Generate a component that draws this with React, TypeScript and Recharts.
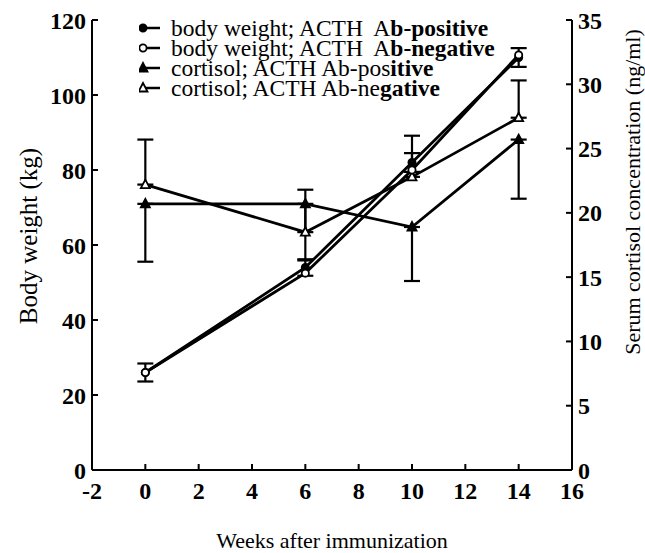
import { ErrorBar, Label, Legend, Line, LineChart, XAxis, YAxis } from "recharts";

const weeks = [0, 6, 10, 14];
const bodyWeightPos = [26, 54, 82, 110];
const bodyWeightPosErr = [2.4, 2.2, 2.5, 2.5];
const bodyWeightNeg = [26, 52.5, 80, 110.7];
const cortisolPos = [20.7, 20.7, 18.9, 25.7];
const cortisolPosErr = [4.5, 4.4, 4.2, 4.6];
const cortisolNeg = [22.2, 18.5, 22.8, 27.4];
const cortisolNegErr = [3.5, 3.3, 3.2, 2.9];

const xTicks = [-2, 0, 2, 4, 6, 8, 10, 12, 14, 16];
const leftTicks = [0, 20, 40, 60, 80, 100, 120];
const rightTicks = [0, 5, 10, 15, 20, 25, 30, 35];

const legendRows = [
	{ marker: "filledCircle", plain: "body weight; ACTH  A", bold: "b-positive" },
	{ marker: "openCircle", plain: "body weight; ACTH  A", bold: "b-negative" },
	{ marker: "filledTriangle", plain: "cortisol; ACTH Ab-pos", bold: "itive" },
	{ marker: "openTriangle", plain: "cortisol; ACTH Ab-ne", bold: "gative" },
];

const data = weeks.map((w, i) => ({
	week: w,
	bwPos: bodyWeightPos[i],
	bwPosErr: bodyWeightPosErr[i],
	bwNeg: bodyWeightNeg[i],
	cPos: cortisolPos[i],
	cPosErr: [cortisolPosErr[i], 0],
	cNeg: cortisolNeg[i],
	cNegErr: [0, cortisolNegErr[i]],
}));

const FONT = "'Liberation Serif', 'Times New Roman', serif";

function markerShape(kind: string, cx: number, cy: number, key?: string) {
	if (kind === "filledCircle" || kind === "openCircle") {
		return (
			<circle key={key} cx={cx} cy={cy} r={3.6} fill={kind === "openCircle" ? "#fff" : "#000"} stroke="#000" strokeWidth={1.8} />
		);
	}
	const pts = `${cx},${cy - 5} ${cx - 4.5},${cy + 3.5} ${cx + 4.5},${cy + 3.5}`;
	return (
		<polygon key={key} points={pts} fill={kind === "openTriangle" ? "#fff" : "#000"} stroke="#000" strokeWidth={1.8} />
	);
}

const dot = (kind: string) => (p: any) => markerShape(kind, p.cx, p.cy, `${kind}-${p.index}`);

function LegendBox() {
	return (
		<div style={{ fontFamily: FONT, fontSize: 23.5, color: "#000", lineHeight: "20px" }}>
			{legendRows.map((r) => (
				<div key={r.marker} style={{ display: "flex", alignItems: "center", height: 20, whiteSpace: "pre" }}>
					<svg width={32} height={14} style={{ flex: "none" }}>
						<line x1={3} y1={7} x2={21} y2={7} stroke="#000" strokeWidth={2.5} />
						{markerShape(r.marker, 4, 7)}
					</svg>
					<span>{r.plain}</span>
					<span style={{ fontWeight: "bold" }}>{r.bold}</span>
				</div>
			))}
		</div>
	);
}

const tickStyle = { fontFamily: FONT, fontSize: 24, fontWeight: "bold", fill: "#000" };

export default function App() {
	return (
		<div style={{ position: "absolute", left: 0, top: 0, background: "#fff", fontFamily: FONT }}>
			<LineChart width={645} height={553} data={data} margin={{ top: 20, right: 13, bottom: 43, left: 32 }}>
				<XAxis
					dataKey="week"
					type="number"
					domain={[-2, 16]}
					ticks={xTicks}
					interval={0}
					tickSize={-6}
					tickMargin={18}
					height={40}
					tick={tickStyle}
					stroke="#000"
					strokeWidth={2}
				>
					<Label
						content={(p: any) => (
							<text x={p.viewBox.x + p.viewBox.width / 2} y={p.viewBox.y + 78} textAnchor="middle" style={{ fontFamily: FONT, fontSize: 22 }} fill="#000">
								Weeks after immunization
							</text>
						)}
					/>
				</XAxis>
				<YAxis
					yAxisId="left"
					domain={[0, 120]}
					ticks={leftTicks}
					interval={0}
					tickSize={-6}
					tickMargin={12}
					width={60}
					tick={tickStyle}
					stroke="#000"
					strokeWidth={2}
				>
					<Label
						content={(p: any) => {
							const x = p.viewBox.x - 4;
							const y = 236;
							return (
								<text x={x} y={y} transform={`rotate(-90 ${x} ${y})`} textAnchor="middle" dominantBaseline="central" style={{ fontFamily: FONT, fontSize: 25 }} fill="#000">
									Body weight (kg)
								</text>
							);
						}}
					/>
				</YAxis>
				<YAxis
					yAxisId="right"
					orientation="right"
					domain={[0, 35]}
					ticks={rightTicks}
					interval={0}
					tickSize={-6}
					tickMargin={12}
					width={60}
					tick={tickStyle}
					stroke="#000"
					strokeWidth={2}
				>
					<Label
						content={(p: any) => {
							const x = p.viewBox.x + 60;
							const y = 192;
							return (
								<text x={x} y={y} transform={`rotate(-90 ${x} ${y})`} textAnchor="middle" dominantBaseline="central" style={{ fontFamily: FONT, fontSize: 22 }} fill="#000">
									Serum cortisol concentration (ng/ml)
								</text>
							);
						}}
					/>
				</YAxis>
				<Legend
					layout="vertical"
					align="center"
					verticalAlign="middle"
					content={() => <LegendBox />}
					wrapperStyle={{ position: "absolute", left: 139, top: 18, width: "auto" }}
				/>
				<Line yAxisId="right" dataKey="cPos" stroke="#000" strokeWidth={2.8} dot={dot("filledTriangle")} isAnimationActive={false} legendType="none">
					<ErrorBar dataKey="cPosErr" direction="y" width={8} stroke="#000" strokeWidth={2.2} />
				</Line>
				<Line yAxisId="right" dataKey="cNeg" stroke="#000" strokeWidth={2.8} dot={dot("openTriangle")} isAnimationActive={false} legendType="none">
					<ErrorBar dataKey="cNegErr" direction="y" width={8} stroke="#000" strokeWidth={2.2} />
				</Line>
				<Line yAxisId="left" dataKey="bwPos" stroke="#000" strokeWidth={2.8} dot={dot("filledCircle")} isAnimationActive={false} legendType="none">
					<ErrorBar dataKey="bwPosErr" direction="y" width={8} stroke="#000" strokeWidth={2.2} />
				</Line>
				<Line yAxisId="left" dataKey="bwNeg" stroke="#000" strokeWidth={2.8} dot={dot("openCircle")} isAnimationActive={false} legendType="none" />
			</LineChart>
		</div>
	);
}
